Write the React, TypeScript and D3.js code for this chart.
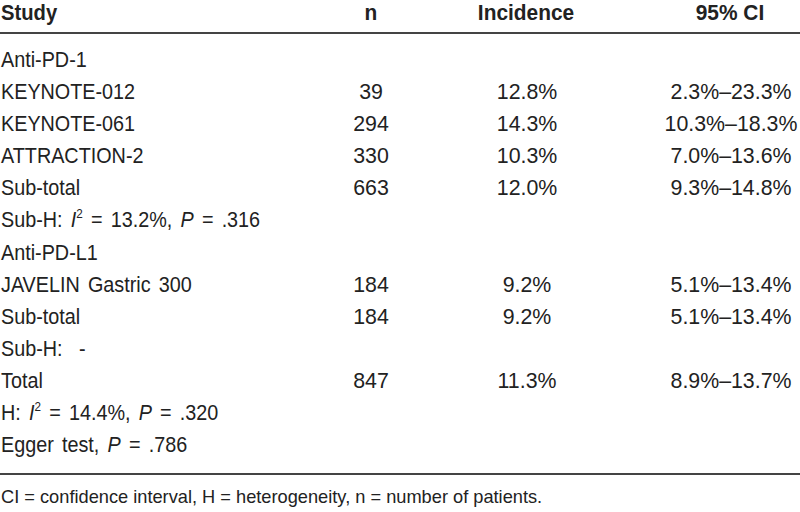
import React from "react";
import * as d3 from "d3";

const headers = ["Study", "n", "Incidence", "95% CI"];
const studyLabels = [
  "Anti-PD-1",
  "KEYNOTE-012",
  "KEYNOTE-061",
  "ATTRACTION-2",
  "Sub-total",
  "SUBH1",
  "Anti-PD-L1",
  "JAVELIN Gastric 300",
  "Sub-total",
  "Sub-H:  -",
  "Total",
  "H1",
  "EGGER",
];
const nValues = ["", "39", "294", "330", "663", "", "", "184", "184", "", "847", "", ""];
const incidenceValues = ["", "12.8%", "14.3%", "10.3%", "12.0%", "", "", "9.2%", "9.2%", "", "11.3%", "", ""];
const ciValues = [
  "",
  "2.3%\u201323.3%",
  "10.3%\u201318.3%",
  "7.0%\u201313.6%",
  "9.3%\u201314.8%",
  "",
  "",
  "5.1%\u201313.4%",
  "5.1%\u201313.4%",
  "",
  "8.9%\u201313.7%",
  "",
  "",
];
const footnote = "CI = confidence interval, H = heterogeneity, n = number of patients.";

const FONT = "'Liberation Sans', Arial, sans-serif";
const COLOR = "#222";
const SX = 0.9;
const SXN = 0.97;

function I2(prefix: string, i2: string, p: string) {
  return (
    <>
      <tspan>{prefix}</tspan>
      <tspan fontStyle="italic">I</tspan>
      <tspan fontSize={13} dy={-9}>2</tspan>
      <tspan dy={9}>{" = " + i2 + ", "}</tspan>
      <tspan fontStyle="italic">P</tspan>
      <tspan>{" = " + p}</tspan>
    </>
  );
}

function renderLabel(label: string) {
  if (label === "SUBH1") return I2("Sub-H: ", "13.2%", ".316");
  if (label === "H1") return I2("H: ", "14.4%", ".320");
  if (label === "EGGER")
    return (
      <>
        <tspan>Egger test, </tspan>
        <tspan fontStyle="italic">P</tspan>
        <tspan>{" = .786"}</tspan>
      </>
    );
  return label;
}

function T({ x, y, anchor = "start", sx = SX, children, ...rest }: any) {
  return (
    <g transform={`translate(${x},${y}) scale(${sx},1)`}>
      <text x={0} y={0} textAnchor={anchor} style={{ whiteSpace: "pre" }} {...rest}>
        {children}
      </text>
    </g>
  );
}

export default function App() {
  const width = 800;
  const height = 512;
  const y = d3
    .scaleLinear()
    .domain([0, studyLabels.length - 1])
    .range([67, 452]);
  const fs = 22;
  return (
    <svg
      width={width}
      height={height}
      style={{ position: "absolute", left: 0, top: 0, background: "#fff" }}
      fontFamily={FONT}
      fill={COLOR}
    >
      <rect width={width} height={height} fill="#fff" />
      <g fontWeight="bold" fontSize={fs}>
        <T x={1} y={20} sx={0.92}>{headers[0]}</T>
        <T x={371} y={20} anchor="middle" sx={0.95}>{headers[1]}</T>
        <T x={526} y={20} anchor="middle" sx={0.95}>{headers[2]}</T>
        <T x={730} y={20} anchor="middle" sx={0.95}>{headers[3]}</T>
      </g>
      <line x1={0} x2={800} y1={33} y2={33} stroke="#444" strokeWidth={2} />
      <g fontSize={fs}>
        {studyLabels.map((s, i) => (
          <g key={i}>
            <T x={1} y={y(i)} wordSpacing={3}>{renderLabel(s)}</T>
            <T x={371} y={y(i)} anchor="middle" sx={SXN}>{nValues[i]}</T>
            <T x={527} y={y(i)} anchor="middle" sx={SXN}>{incidenceValues[i]}</T>
            <T x={731} y={y(i)} anchor="middle" sx={SXN}>{ciValues[i]}</T>
          </g>
        ))}
      </g>
      <line x1={0} x2={800} y1={474} y2={474} stroke="#444" strokeWidth={2} />
      <T x={1} y={503} sx={0.96} fontSize={19}>{footnote}</T>
    </svg>
  );
}
